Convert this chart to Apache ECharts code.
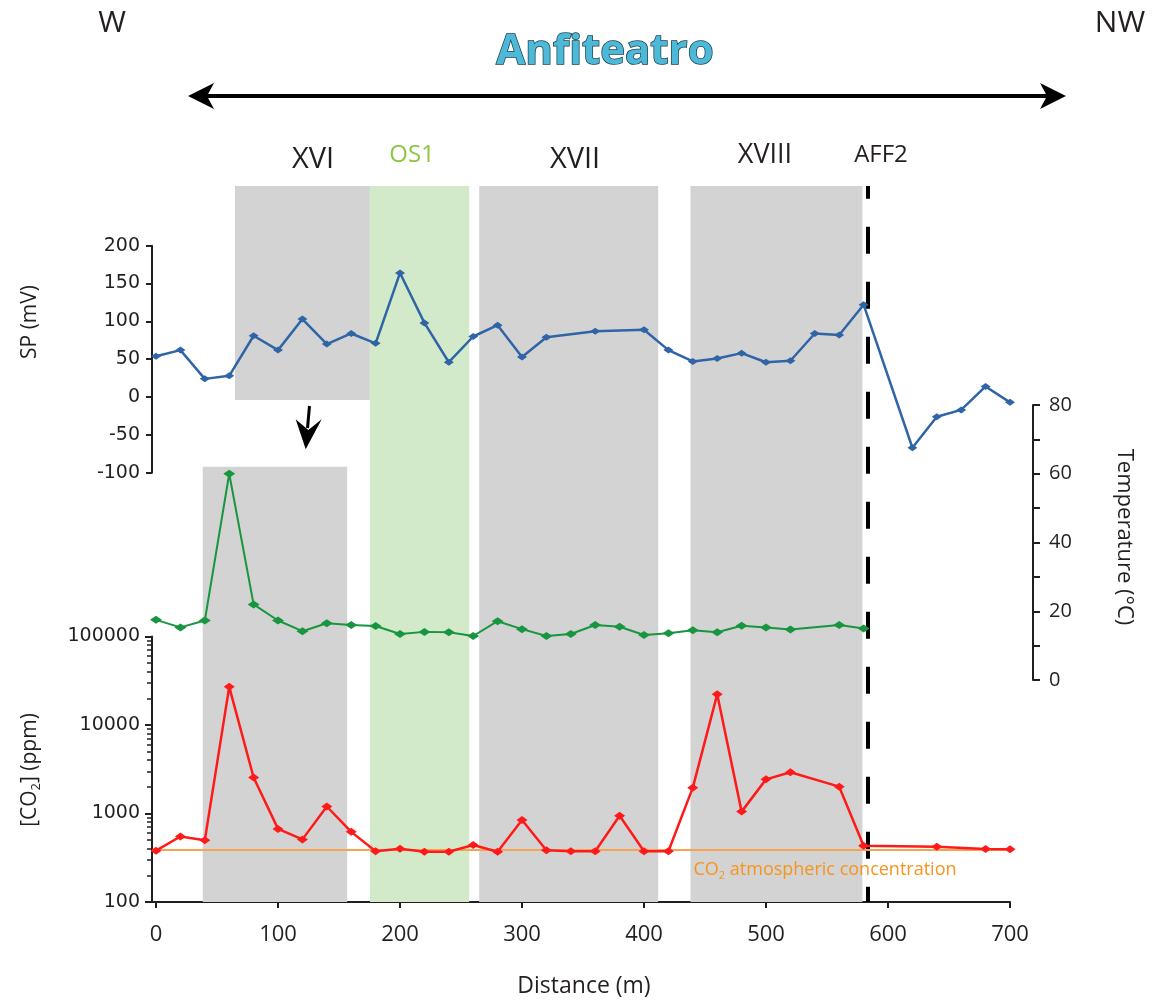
<!DOCTYPE html>
<html><head><meta charset="utf-8">
<script src="https://cdn.jsdelivr.net/npm/echarts@6/dist/echarts.min.js"></script>
<style>html,body{margin:0;padding:0;background:#fff}#c{width:1153px;height:1000px}</style>
</head><body><div id="c"></div>
<script>
// ---------------- DATA ----------------
const spDist = [0,20,40,60,80,100,120,140,160,180,200,220,240,260,280,300,320,360,400,420,440,460,480,500,520,540,560,580,620,640,660,680,700];
const spVal  = [54,62,24,28,81,62,103,70,84,71,164,98,46,80,95,53,79,87,89,62,47,51,58,46,48,84,82,122,-67,-26,-17,14,-7];

const tDist = [0,20,40,60,80,100,120,140,160,180,200,220,240,260,280,300,320,340,360,380,400,420,440,460,480,500,520,560,580];
const tVal  = [17.5,15.3,17.3,60,22,17.3,14.2,16.5,16,15.7,13.4,14,13.9,12.8,17.1,14.8,12.8,13.4,16,15.5,13.1,13.6,14.5,13.9,15.8,15.3,14.7,16,15];

const co2Dist = [0,20,40,60,80,100,120,140,160,180,200,220,240,260,280,300,320,340,360,380,400,420,440,460,480,500,520,560,580,640,680,700];
const co2Val  = [380,550,500,27000,2550,670,510,1200,620,375,400,370,370,440,370,845,385,375,375,945,375,375,1960,22200,1050,2430,2920,2010,433,422,397,394];
const co2Atmospheric = 390;

const xTicks = [0,100,200,300,400,500,600,700];
const zoneNames = ['XVI','OS1','XVII','XVIII','AFF2'];
const bandStart = [64.7, 175.3, 264.9, 438.1, 38.3];   // m
const bandEnd   = [175.3, 256.7, 411.6, 579.0, 156.7]; // m
const aff2Dist = 583.6;

// ---------------- LAYOUT / STYLE ----------------
const INK = '#231F20';
const GL = 152, GW = 858, XMIN = -3.3, XMAX = 700;
const bandVert = [[0.701,1],[0,1],[0,1],[0,1],[0,0.608]];
const bandFill = ['#D3D3D3','#D3EACA','#D3D3D3','#D3D3D3','#D3D3D3'];
const minorLog = [];
for (let d = 2; d < 5; d++) for (let k = 2; k <= 9; k++) minorLog.push(d + Math.log10(k));

const zip = (a, b) => a.map((v, i) => [v, b[i]]);

const grids = [
  {left:GL, width:GW, top:245.7, height:227},
  {left:GL, width:GW, top:405, height:275},
  {left:GL, width:GW, top:636.5, height:265.5},
  {left:GL, width:GW, top:186, height:716}
].map(g => Object.assign(g, {outerBoundsMode:'none', containLabel:false, show:false}));

const xAxes = [0,1,2,3].map(i => ({
  gridIndex:i, type:'value', min:XMIN, max:XMAX, show: i===2,
  axisLine:{show:true, onZero:false, lineStyle:{color:INK, width:2}},
  axisTick:{show:true, customValues:xTicks, length:6, lineStyle:{color:INK, width:2}},
  axisLabel:{show:true, customValues:xTicks, margin:22, fontSize:22, fontFamily:'"Open Sans"', color:INK},
  splitLine:{show:false}
}));

const numLabel = {fontSize:19, fontFamily:'DejaVu Sans', color:INK, margin:12};
const axLine = {show:true, onZero:false, lineStyle:{color:INK, width:2}};
const yAxes = [
  {gridIndex:0, type:'value', min:-100, max:200, interval:50, position:'left',
   axisLine:axLine,
   axisTick:{show:true, length:6, lineStyle:{color:INK, width:2}},
   axisLabel:Object.assign({formatter:v=>String(v)}, numLabel), splitLine:{show:false}},
  {gridIndex:1, type:'value', min:0, max:80, interval:20, position:'right', offset:23,
   axisLine:axLine,
   axisTick:{show:true, length:7, lineStyle:{color:INK, width:2}},
   minorTick:{show:true, splitNumber:2, length:7, lineStyle:{color:INK, width:2}},
   axisLabel:{fontSize:20, fontFamily:'"Open Sans"', color:INK, margin:16},
   splitLine:{show:false}, minorSplitLine:{show:false}},
  {gridIndex:2, type:'log', logBase:10, min:100, max:100000, position:'left',
   axisLine:axLine,
   axisTick:{show:true, length:7, lineStyle:{color:INK, width:2}},
   axisLabel:Object.assign({formatter:v=>String(Math.round(v))}, numLabel), splitLine:{show:false}},
  {gridIndex:2, type:'value', min:2, max:5, position:'left',
   axisLine:{show:false, onZero:false}, axisLabel:{show:false}, splitLine:{show:false},
   axisTick:{show:true, customValues:minorLog, length:5, lineStyle:{color:INK, width:1.5}}},
  {gridIndex:3, type:'value', min:0, max:1, show:false, axisLine:{onZero:false}}
];

const lineSeries = (name, xi, yi, data, color, w, sz) => ({
  name, type:'line', xAxisIndex:xi, yAxisIndex:yi, data, z:5,
  symbol:'diamond', symbolSize:sz, showSymbol:true,
  itemStyle:{color}, lineStyle:{color, width:w},
  emphasis:{disabled:true}, animation:false
});

const series = [
  {type:'custom', xAxisIndex:3, yAxisIndex:4, z:1, silent:true, animation:false,
   encode:{x:[0,1], y:[2,3]},
   data: bandStart.map((s, i) => [s, bandEnd[i], bandVert[i][0], bandVert[i][1], i]),
   renderItem:(params, api) => {
     const p0 = api.coord([api.value(0), api.value(3)]);
     const p1 = api.coord([api.value(1), api.value(2)]);
     return {type:'rect', shape:{x:p0[0], y:p0[1], width:p1[0]-p0[0], height:p1[1]-p0[1]},
             style:{fill: bandFill[api.value(4)]}};
   }},
  {type:'line', xAxisIndex:3, yAxisIndex:4, z:4, silent:true, animation:false, symbol:'none',
   data:[[aff2Dist,0],[aff2Dist,1]],
   lineStyle:{color:'#000', width:4, type:[27,28], dashOffset:11.7}},
  lineSeries('SP', 0, 0, zip(spDist, spVal), '#2F64A6', 2.5, [10,7]),
  lineSeries('Temperature', 1, 1, zip(tDist, tVal), '#17963F', 2, [12,8]),
  Object.assign(lineSeries('CO2', 2, 2, zip(co2Dist, co2Val), '#FF1A1A', 2.5, [11,8]), {
    markLine:{silent:true, symbol:['none','none'], animation:false, label:{show:false},
      lineStyle:{color:'#F8A350', width:2, type:'solid'}, emphasis:{disabled:true},
      data:[{yAxis:co2Atmospheric}]}
  })
];

const txt = (text, x, y, size, color, extra) => Object.assign({
  type:'text', x, y, z:100,
  style:Object.assign({text, fontSize:size, fontFamily:'"Open Sans"', fill:color,
    align:'center', verticalAlign:'middle', textAlign:'center', textVerticalAlign:'middle'}, (extra||{}).style||{})
}, extra ? {rotation: extra.rotation||0} : {});

const graphic = [
  txt('W', 112, 23, 30, INK),
  txt('NW', 1120, 23, 30, INK),
  {type:'text', x:605, y:52, z:100, style:{text:'Anfiteatro', fontSize:42, fontWeight:'bold',
    fontFamily:'"Open Sans"', fill:'#4CB9D8', stroke:'#22404C', lineWidth:1.5,
    align:'center', verticalAlign:'middle', textAlign:'center', textVerticalAlign:'middle',
    shadowColor:'rgba(0,0,0,0.35)', shadowBlur:2, shadowOffsetX:1, shadowOffsetY:1}},
  {type:'line', z:100, shape:{x1:204, y1:96, x2:1050, y2:96}, style:{stroke:'#000', lineWidth:4}},
  {type:'polygon', z:100, shape:{points:[[188,96],[214,83],[207,96],[214,109]]}, style:{fill:'#000'}},
  {type:'polygon', z:100, shape:{points:[[1066,96],[1040,83],[1047,96],[1040,109]]}, style:{fill:'#000'}},
  txt(zoneNames[0], 313, 160, 29, INK),
  txt(zoneNames[1], 412, 155, 24, '#8DC63F'),
  txt(zoneNames[2], 575, 160, 29, INK),
  txt(zoneNames[3], 765, 155, 27, INK),
  txt(zoneNames[4], 881, 155, 24, INK),
  {type:'line', z:100, shape:{x1:309.5, y1:406, x2:307.5, y2:428}, style:{stroke:'#000', lineWidth:3}},
  {type:'polygon', z:100, shape:{points:[[295.7,419.3],[308.3,430],[321.7,419.3],[305.7,449.3]]}, style:{fill:'#000'}},
  txt('SP (mV)', 30, 322, 21, INK, {rotation:Math.PI/2}),
  txt('Temperature (°C)', 1124, 537, 22, INK, {rotation:-Math.PI/2}),
  txt('[CO{s|2}] (ppm)', 30, 770, 21, INK, {rotation:Math.PI/2, style:{lineHeight:26,
     rich:{s:{fontSize:13, fontFamily:'"Open Sans"', fill:INK, verticalAlign:'bottom', lineHeight:14}}}}),
  txt('Distance (m)', 584, 986, 23, INK),
  txt('CO{s|2} atmospheric concentration', 825, 870, 18, '#F7941D', {style:{lineHeight:22,
     rich:{s:{fontSize:11, fontFamily:'"Open Sans"', fill:'#F7941D', verticalAlign:'bottom', lineHeight:12}}}})
];

const chart = echarts.init(document.getElementById('c'), null, {renderer:'canvas'});
chart.setOption({
  animation:false,
  backgroundColor:'#fff',
  grid: grids,
  xAxis: xAxes,
  yAxis: yAxes,
  series,
  graphic
});
</script>
</body></html>
